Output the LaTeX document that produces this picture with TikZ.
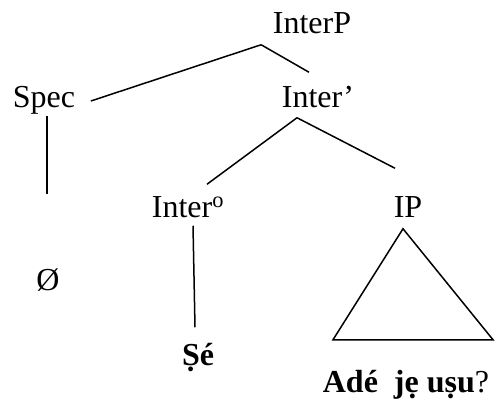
\documentclass[tikz,border=0pt]{standalone}
\usepackage{fontspec}
\setmainfont{Liberation Serif}
\usetikzlibrary{positioning}

\begin{document}
\begin{tikzpicture}[x=1pt,y=-1pt,line width=1.5pt,
    cat/.style={anchor=base,inner sep=0pt,text height=21pt,text depth=7pt,
                font=\fontsize{32}{38}\selectfont}]

                \useasboundingbox (0,0) rectangle (504,407);

                \node[cat] (interP) at (312,33) {InterP};

                \node[cat] (spec) at (44,107) {Spec};

                \node[cat] (interbar) at (318,107) {Inter’};

                \node[cat] (inter0) at (188,217) {Inter\textsuperscript{o}};

                \node[cat] (ip) at (408,217) {IP};

                \node[cat] (null) at (48,290) {Ø};

                \node[cat,font=\fontsize{32}{38}\selectfont\bfseries] (se) at (198,365) {Ṣé};

                \node[cat] (ade) at (406,392) {\textbf{Adé\ \ jẹ\ uṣu}?};

                

                \draw ([shift={(-11,4)}]interP.south west) -- ([shift={(15,1)}]spec.east);

                \draw ([shift={(-11,4)}]interP.south west) -- ([shift={(-9,-13)}]interbar.north);

                \draw ([shift={(-21,3)}]interbar.south) -- ([shift={(19,-11)}]inter0.north);

                \draw ([shift={(-21,3)}]interbar.south) -- ([shift={(-13,-27)}]ip.north);

                \draw ([shift={(3,1)}]spec.south) -- ([shift={(-1,-74)}]null.north);

                \draw ([shift={(5,1)}]inter0.south) -- ([shift={(-3,-16)}]se.north);

                \draw ([shift={(-5,4)}]ip.south) -- ++(-70,111) -- ++(160,0) -- cycle;

            \end{tikzpicture}
\end{document}
